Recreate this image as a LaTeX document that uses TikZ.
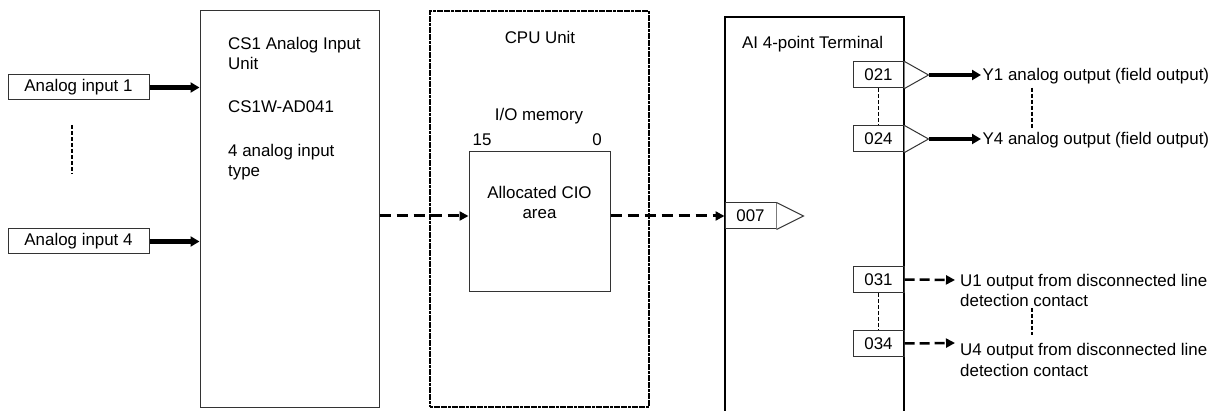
\documentclass[tikz,border=0pt]{standalone}
\usepackage{fontspec}
\setmainfont{Liberation Sans}
\usetikzlibrary{arrows.meta,calc}
\begin{document}
\begin{tikzpicture}[x=1pt,y=-1pt,
  every node/.style={font=\fontsize{16.9}{20.5}\selectfont},
  box/.style={draw=black!80,line width=1pt,inner sep=0pt},
  term/.style={box,minimum width=51pt,minimum height=26pt},
  lbl/.style={inner sep=0pt},
  thickarrow/.style={line width=4.5pt,-{Triangle[length=9pt,width=10pt]}},
  dasharrow/.style={line width=3pt,dash pattern=on 11pt off 6pt,-{Triangle[length=9pt,width=9pt]}},
  vdots/.style={line width=1.8pt,dash pattern=on 4pt off 2pt},
  tri/.style={draw=black!80,line width=1pt,fill=white}]
\useasboundingbox (0,0) rectangle (1220,411);
% left inputs
\node[box,minimum width=141pt,minimum height=25pt] (in1) at (78.5,87.5) {Analog input 1};
\node[box,minimum width=141pt,minimum height=25pt] (in4) at (78.5,241.5) {Analog input 4};
\coordinate (d1) at (72,125);
\coordinate (d2) at (72,174);
\draw[vdots] (d1) -- (d2);
% CS1 unit
\node[box,minimum width=179pt,minimum height=396pt] (cs1) at (289.5,209) {};
\node[lbl,anchor=base west,align=left] (cs1t) at (228,70) {CS1 Analog Input\\Unit};
\node[lbl,anchor=base west] (cs1m) at (228,113) {CS1W-AD041};
\node[lbl,anchor=base west,align=left] (cs1d) at (228,177) {4 analog input\\type};
\draw[thickarrow] (in1.east) -- (in1.east -| cs1.west);
\draw[thickarrow] (in4.east) -- (in4.east -| cs1.west);
% CPU unit
\node[draw=black,line width=1.2pt,dash pattern=on 3pt off 0.6pt,minimum width=219pt,minimum height=396pt,inner sep=0pt] (cpu) at (539.5,209) {};
\node[lbl,anchor=base] (cput) at (540,44) {CPU Unit};
\node[lbl,anchor=base] (iom) at (539,121) {I/O memory};
\node[lbl,anchor=base] (b15) at (482,146) {15};
\node[lbl,anchor=base] (b0) at (597,146) {0};
\node[box,minimum width=141pt,minimum height=140pt] (mem) at (539.5,222) {};
\node[lbl,anchor=base,align=center] (memt) at (539.5,219) {Allocated CIO\\area};
% AI terminal
\coordinate (aibl) at (725,411);
\coordinate (aitl) at (725,17);
\coordinate (aitr) at (904,17);
\coordinate (aibr) at (904,411);
\draw[line width=1.6pt] (aibl) -- (aitl) -- (aitr) -- (aibr);
\node[lbl,anchor=base west] (ait) at (742,49) {AI 4-point Terminal};
\node[term] (t007) at (750.5,216) {007};
\coordinate (p007) at ($(t007.east)+(27,0)$);
\draw[tri] (t007.north east) -- (p007) -- (t007.south east);
\draw[dasharrow] (cs1.east |- t007) -- (mem.west |- t007);
\draw[dasharrow] (mem.east |- t007) -- (t007.west);
% outputs
\node[term] (t021) at (878.5,75) {021};
\node[term] (t024) at (878.5,139) {024};
\node[term] (t031) at (878.5,279.5) {031};
\node[term] (t034) at (878.5,343.5) {034};
\coordinate (p021) at ($(t021.east)+(24,0)$);
\coordinate (p024) at ($(t024.east)+(24,0)$);
\draw[tri] (t021.north east) -- (p021) -- (t021.south east);
\draw[tri] (t024.north east) -- (p024) -- (t024.south east);
\node[lbl,anchor=west,inner sep=1.5pt] (y1) at (981,76) {Y1 analog output (field output)};
\node[lbl,anchor=west,inner sep=1.5pt] (y4) at (981,140) {Y4 analog output (field output)};
\draw[thickarrow] (p021) -- (y1.west |- p021);
\draw[thickarrow] (p024) -- (y4.west |- p024);
\draw[vdots] (t021.south) -- (t024.north);
\draw[vdots] ([xshift=51pt,yshift=-2pt]y1.south west) -- ([xshift=51pt,yshift=2pt]y4.north west);
\node[lbl,anchor=base west,align=left] (u1) at (960,307) {U1 output from disconnected line\\detection contact};
\node[lbl,anchor=base west,align=left] (u4) at (960,376) {U4 output from disconnected line\\detection contact};
\coordinate (u1a) at (955,280);
\coordinate (u4a) at (955,343);
\draw[dasharrow,line width=2.5pt,dash pattern=on 10pt off 5pt] (t031.east) -- (u1a);
\draw[dasharrow,line width=2.5pt,dash pattern=on 10pt off 5pt] (t034.east) -- (u4a);
\draw[vdots] (t031.south) -- (t034.north);
\coordinate (e1) at (1032,308);
\coordinate (e2) at (1032,335);
\draw[vdots] (e1) -- (e2);
\end{tikzpicture}
\end{document}
